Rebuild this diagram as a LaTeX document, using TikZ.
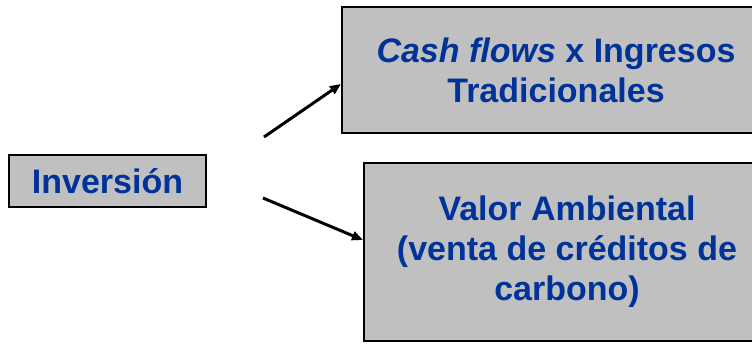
\documentclass[tikz,border=0pt]{standalone}
\usepackage{fontspec}
\setmainfont{Liberation Sans}
\usetikzlibrary{arrows.meta}
\definecolor{txtblue}{RGB}{0,51,153}
\definecolor{boxgray}{RGB}{192,192,192}
\begin{document}
\begin{tikzpicture}[x=1pt,y=1pt,
  gbox/.style={draw=black,fill=boxgray,line width=2pt,inner sep=0pt,
    font=\fontsize{34}{40}\selectfont\bfseries,text=txtblue,align=center},
  arr/.style={line width=3pt,-{Triangle[length=11pt,width=9pt]}}]
\useasboundingbox (0,0) rectangle (752,-343);
\clip (0,0) rectangle (752,-343);
\node[gbox,minimum width=197pt,minimum height=52pt] (inv) at (107.5,-181) {Inversión};
\node[gbox,minimum width=428pt,minimum height=126pt] (cash) at (556,-70) {\textit{Cash flows} x Ingresos\\Tradicionales};
\node[gbox,minimum width=406pt,minimum height=178pt] (val) at (567,-252) {Valor Ambiental\\(venta de créditos de\\carbono)};
\coordinate (t1) at (264,-137);
\coordinate (t2) at (263,-198);
\draw[arr] (t1) -- (cash.west |- 0,-84);
\draw[arr] (t2) -- (val.west |- 0,-240);
\end{tikzpicture}
\end{document}
